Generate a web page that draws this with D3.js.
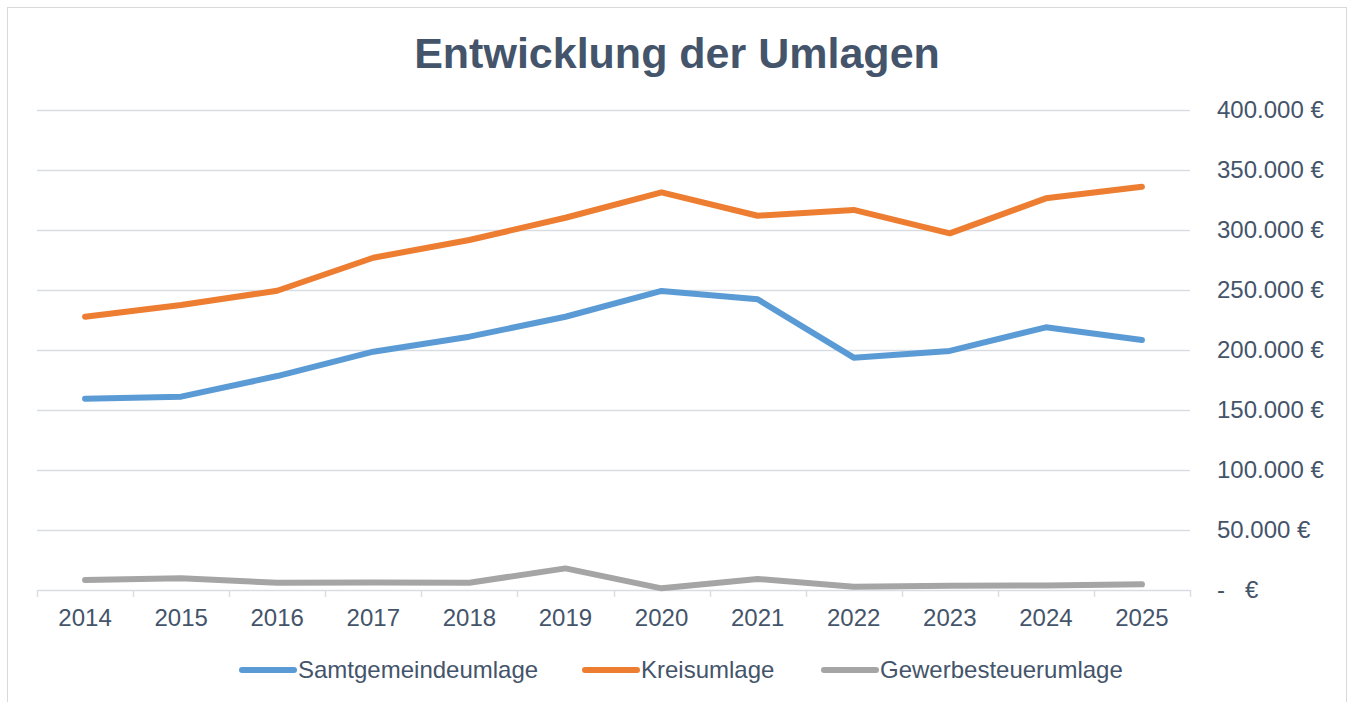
<!DOCTYPE html>
<html>
<head>
<meta charset="utf-8">
<script src="https://cdn.jsdelivr.net/npm/d3@7"></script>
<style>
  body { margin: 0; background: #fff; }
  svg { font-family: "Liberation Sans", Arial, sans-serif; }
</style>
</head>
<body>
<div id="chart"></div>
<script>
// Data
var years = ["2014", "2015", "2016", "2017", "2018", "2019", "2020", "2021", "2022", "2023", "2024", "2025"];
var samtgemeindeumlage = [159400, 161100, 178300, 198600, 211100, 227700, 249200, 242300, 193600, 199200, 218900, 208300];
var kreisumlage = [227700, 237500, 249400, 276900, 291700, 310200, 331400, 311900, 316700, 297200, 326400, 336100];
var gewerbesteuerumlage = [8300, 9700, 6100, 6200, 6100, 18000, 1400, 9200, 2800, 3600, 3700, 4700];
var yTicks = [0, 50000, 100000, 150000, 200000, 250000, 300000, 350000, 400000];

var seriesNames = ["Samtgemeindeumlage", "Kreisumlage", "Gewerbesteuerumlage"];
var seriesValues = [samtgemeindeumlage, kreisumlage, gewerbesteuerumlage];
var seriesColors = ["#5b9bd5", "#ed7d31", "#a5a5a5"];

var width = 1351, height = 702;
var textColor = "#44546a";
var gridColor = "#d9dde3";
var labelSize = 24;

var svg = d3.select("#chart").append("svg")
    .attr("width", width)
    .attr("height", height);

// chart frame
svg.append("rect")
    .attr("x", 7.5).attr("y", 7.5)
    .attr("width", 1339).attr("height", 700)
    .attr("fill", "#fff")
    .attr("stroke", "#d9d9d9");

var xScale = d3.scaleBand().domain(years).range([37, 1190]);
var yScale = d3.scaleLinear().domain([0, 400000]).range([590, 110]);

// title
svg.append("text")
    .attr("x", 677).attr("y", 68)
    .attr("text-anchor", "middle")
    .attr("font-size", 43)
    .attr("font-weight", "bold")
    .attr("fill", textColor)
    .text("Entwicklung der Umlagen");

// gridlines
svg.append("g")
    .selectAll("line")
    .data(yTicks.filter(function(d) { return d > 0; }))
    .enter()
    .append("line")
    .attr("x1", 37).attr("x2", 1190)
    .attr("y1", function(d) { return Math.round(yScale(d)) + 0.5; })
    .attr("y2", function(d) { return Math.round(yScale(d)) + 0.5; })
    .attr("stroke", gridColor)
    .attr("stroke-width", 1.5);

// y labels on the right (accounting style)
function euro(d) {
    if (d === 0) return "-   €";
    return d3.format(",")(d).replace(/,/g, ".") + " €";
}
svg.append("g")
    .selectAll("text")
    .data(yTicks)
    .enter()
    .append("text")
    .attr("x", 1217)
    .attr("y", function(d) { return yScale(d) + 8; })
    .attr("font-size", labelSize)
    .attr("fill", textColor)
    .style("white-space", "pre")
    .text(euro);

// x axis
var xAxis = d3.axisBottom(xScale).tickSize(0).tickPadding(19);
var gx = svg.append("g")
    .attr("transform", "translate(0,590)")
    .call(xAxis);
gx.select(".domain").attr("stroke", gridColor).attr("stroke-width", 1.5);
gx.selectAll("text")
    .attr("font-size", labelSize)
    .attr("fill", textColor)
    .attr("font-family", "Liberation Sans, Arial, sans-serif");

// tick marks at category boundaries
var boundaries = years.map(function(d) { return xScale(d); }).concat([xScale.range()[1]]);
svg.append("g")
    .selectAll("line")
    .data(boundaries)
    .enter()
    .append("line")
    .attr("x1", function(d) { return Math.round(d) + 0.5; })
    .attr("x2", function(d) { return Math.round(d) + 0.5; })
    .attr("y1", 590).attr("y2", 597)
    .attr("stroke", gridColor)
    .attr("stroke-width", 1.5);

// lines
var line = d3.line()
    .x(function(d, i) { return xScale(years[i]) + xScale.bandwidth() / 2; })
    .y(function(d) { return yScale(d); });

svg.append("g")
    .selectAll("path")
    .data(seriesValues)
    .enter()
    .append("path")
    .attr("d", line)
    .attr("fill", "none")
    .attr("stroke", function(d, i) { return seriesColors[i]; })
    .attr("stroke-width", 6)
    .attr("stroke-linejoin", "round")
    .attr("stroke-linecap", "round");

// legend
var legendX = [240, 583, 822];
var legend = svg.append("g")
    .selectAll("g")
    .data(seriesNames)
    .enter()
    .append("g")
    .attr("transform", function(d, i) { return "translate(" + legendX[i] + ",670)"; });
legend.append("line")
    .attr("x1", 2).attr("x2", 54)
    .attr("y1", 0).attr("y2", 0)
    .attr("stroke", function(d, i) { return seriesColors[i]; })
    .attr("stroke-width", 6)
    .attr("stroke-linecap", "round");
legend.append("text")
    .attr("x", 58).attr("y", 8)
    .attr("font-size", labelSize)
    .attr("fill", textColor)
    .text(function(d) { return d; });
</script>
</body>
</html>
